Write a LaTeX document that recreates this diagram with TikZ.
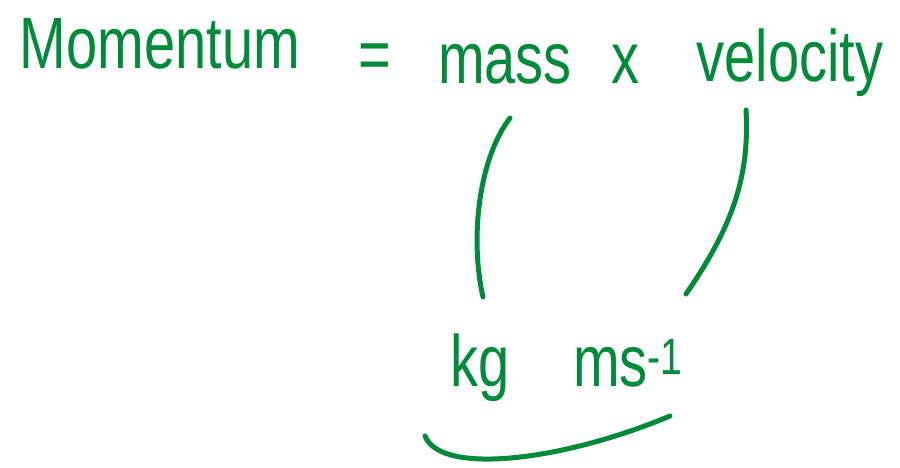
\documentclass[tikz,border=0pt]{standalone}
\usepackage{fontspec}
\setmainfont{Liberation Sans}
\definecolor{inkgreen}{RGB}{0,138,58}
\newcommand{\tallink}[1]{\scalebox{1}[1.3]{#1}}
\tikzset{
  ink/.style={text=inkgreen, inner sep=0pt, anchor=base, font=\fontsize{56}{60}\selectfont},
  stroke/.style={draw=inkgreen, line width=5pt, line cap=round, line join=round}
}
\begin{document}
\begin{tikzpicture}[x=1pt,y=-1pt]
\useasboundingbox (0,0) rectangle (900,468);
\node[ink] (mom) at (160,69) {\tallink{Momentum}};
\node[ink] (eq) at (375,80) {\tallink{=}};
\node[ink] (mass) at (505,84) {\tallink{mass}};
\node[ink] (times) at (625,84) {\tallink{x}};
\node[ink] (vel) at (790,82) {\tallink{velocity}};
\node[ink] (kg) at (480,386) {\tallink{kg}};
\node[ink] (ms) at (628,386) {\tallink{ms\textsuperscript{-1}}};
\coordinate (m1) at (510,118);
\coordinate (m2) at (483,297);
\coordinate (v1) at (746,110);
\coordinate (v2) at (686,294);
\coordinate (b1) at (425,436);
\coordinate (b2) at (670,416);
\draw[stroke] (m1) .. controls (478,160) and (470,240) .. (m2);
\draw[stroke] (v1) .. controls (750,180) and (730,230) .. (v2);
\draw[stroke] (b1) .. controls (440,475) and (560,462) .. (b2);
\end{tikzpicture}
\end{document}
